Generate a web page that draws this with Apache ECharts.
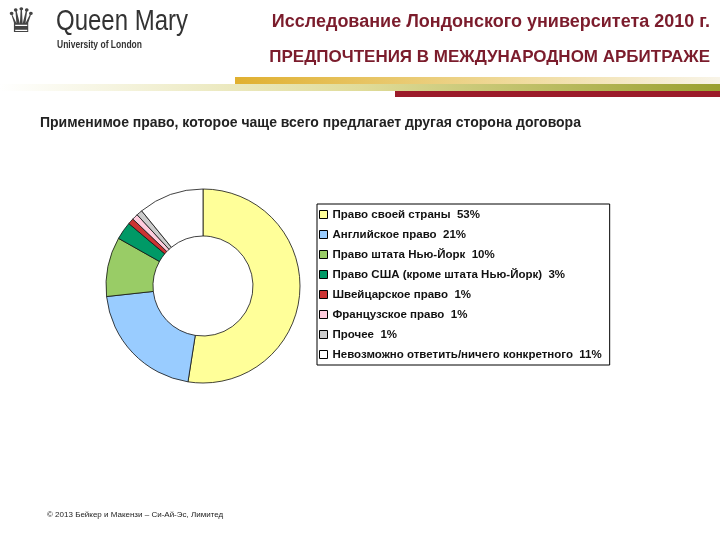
<!DOCTYPE html>
<html>
<head>
<meta charset="utf-8">
<script src="https://cdn.jsdelivr.net/npm/echarts@6/dist/echarts.min.js"></script>
<style>html,body{margin:0;padding:0;background:#fff}#c{width:720px;height:540px}</style>
</head>
<body>
<div id="c"></div>
<script>
const names = ['Право своей страны', 'Английское право', 'Право штата Нью-Йорк',
  'Право США (кроме штата Нью-Йорк)', 'Швейцарское право', 'Французское право',
  'Прочее', 'Невозможно ответить/ничего конкретного'];
const values = [53, 21, 10, 3, 1, 1, 1, 11];
const colors = ['#ffff99', '#99ccff', '#99cc66', '#009966', '#cc3333', '#ffccdd', '#cccccc', '#ffffff'];

var chart = echarts.init(document.getElementById('c'));
const dark = '#7b1c2c';

chart.setOption({
  animation: false,
  textStyle: { fontFamily: 'Liberation Sans, Arial' },
  legend: {
    orient: 'vertical',
    left: 317, top: 204,
    itemWidth: 8, itemHeight: 8,
    itemGap: 7,
    padding: [4, 8, 4, 2],
    borderColor: '#000', borderWidth: 1,
    icon: 'rect',
    itemStyle: { borderColor: '#000', borderWidth: 1 },
    textStyle: { fontSize: 11.5, color: '#111', fontWeight: 'bold', padding: [0, 0, 0, 0], lineHeight: 13 },
    formatter: n => n + '  ' + values[names.indexOf(n)] + '%',
    data: names
  },
  series: [{
    type: 'pie',
    center: [203, 286],
    radius: [50, 97],
    startAngle: 90,
    clockwise: true,
    label: { show: false },
    labelLine: { show: false },
    itemStyle: { borderColor: '#111', borderWidth: 0.8 },
    emphasis: { disabled: true },
    data: names.map((n, i) => ({ name: n, value: values[i], itemStyle: { color: colors[i] } }))
  }],
  graphic: [
    { type: 'rect', shape: { x: 0, y: 84, width: 720, height: 7 },
      style: { fill: new echarts.graphic.LinearGradient(0, 0, 1, 0, [
        { offset: 0, color: '#ffffff' }, { offset: 0.5, color: '#e0dc9a' }, { offset: 1, color: '#9aa030' }]) } },
    { type: 'rect', shape: { x: 235, y: 77, width: 485, height: 7 },
      style: { fill: new echarts.graphic.LinearGradient(0, 0, 1, 0, [
        { offset: 0, color: '#e0b030' }, { offset: 0.6, color: '#f0dca0' }, { offset: 1, color: '#f8f4e8' }]) } },
    { type: 'rect', shape: { x: 395, y: 91, width: 325, height: 6 }, style: { fill: '#9b1b2a' } },
    { type: 'text', left: 6, top: 6, style: { text: '♛', fontSize: 34, fill: '#444' } },
    { type: 'text', x: 56, y: 7, scaleX: 0.8, style: { text: 'Queen Mary', fontSize: 30, fill: '#333' } },
    { type: 'text', x: 57, y: 40, scaleX: 0.85, style: { text: 'University of London', fontSize: 10, fill: '#333', fontWeight: 'bold' } },
    { type: 'text', right: 10, top: 13, style: { text: 'Исследование Лондонского университета 2010 г.', fontSize: 18, fontWeight: 'bold', fill: dark } },
    { type: 'text', right: 10, top: 49, style: { text: 'ПРЕДПОЧТЕНИЯ В МЕЖДУНАРОДНОМ АРБИТРАЖЕ', fontSize: 17, fontWeight: 'bold', fill: dark } },
    { type: 'text', left: 40, top: 116, style: { text: 'Применимое право, которое чаще всего предлагает другая сторона договора', fontSize: 14, fill: '#222', fontWeight: 'bold' } },
    { type: 'text', left: 47, top: 511, style: { text: '© 2013 Бейкер и Макензи – Си-Ай-Эс, Лимитед', fontSize: 8, fill: '#222' } }
  ]
});
</script>
</body>
</html>
